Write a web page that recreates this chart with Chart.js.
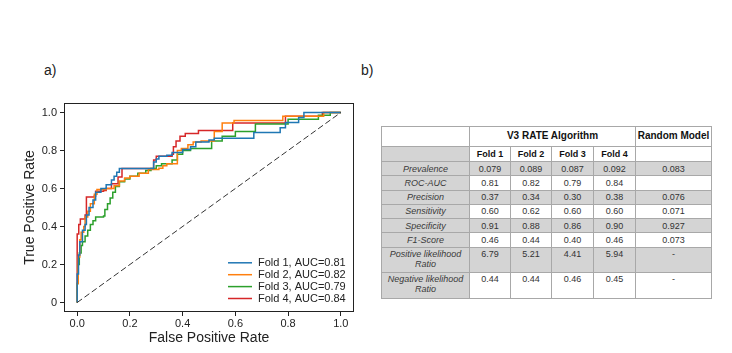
<!DOCTYPE html>
<html>
<head>
<meta charset="utf-8">
<script src="https://cdn.jsdelivr.net/npm/chart.js@4.4.1/dist/chart.umd.min.js"></script>
<style>
  body { margin: 0; background: #fff; font-family: "Liberation Sans", Arial, sans-serif; }
  #wrap { position: relative; width: 732px; height: 353px; overflow: hidden; }
  #roc { position: absolute; left: 0; top: 0; }
  .panel { position: absolute; font-size: 14px; color: #222; }
  #metrics {
    position: absolute; left: 381px; top: 126px;
    border-collapse: collapse; table-layout: fixed; width: 330px;
    font-size: 9px; color: #333;
  }
  #metrics td { border: 1px solid #a8a8a8; padding: 1.5px 1px 0 1px; text-align: center;
    vertical-align: top; line-height: 10px; overflow: hidden; }
  #metrics td.lbl { background: #d4d4d4; font-style: italic; color: #3a3a3a; }
  #metrics tr.shade td { background: #d4d4d4; }
  #metrics td.head { font-weight: bold; font-size: 10px; color: #111; padding-top: 4px; }
  #metrics td.fold { font-weight: bold; color: #111; padding-top: 2px; }
</style>
</head>
<body>
<div id="wrap">
  <div class="panel" style="left:44px;top:62px;">a)</div>
  <div class="panel" style="left:361px;top:62px;">b)</div>
  <canvas id="roc" width="360" height="353"></canvas>
  <table id="metrics"></table>
</div>
<script>
// ROC curves (fpr, tpr after each step)
const fold1Fpr = [0, 0, 0.005, 0.01, 0.02, 0.03, 0.035, 0.045, 0.06, 0.07, 0.09, 0.11, 0.13, 0.14, 0.15, 0.16, 0.28, 0.29, 0.30, 0.31, 0.34, 0.36, 0.40, 0.43, 0.45, 0.50, 0.52, 0.67, 0.77, 0.79, 0.84, 0.86, 1.0];
const fold1Tpr = [0, 0.15, 0.25, 0.32, 0.38, 0.41, 0.46, 0.50, 0.54, 0.58, 0.60, 0.62, 0.645, 0.665, 0.685, 0.705, 0.705, 0.74, 0.755, 0.77, 0.775, 0.79, 0.805, 0.82, 0.845, 0.855, 0.865, 0.895, 0.92, 0.947, 0.974, 1.0, 1.0];

const fold2Fpr = [0, 0, 0.004, 0.01, 0.015, 0.025, 0.03, 0.04, 0.05, 0.065, 0.075, 0.11, 0.14, 0.16, 0.18, 0.20, 0.235, 0.27, 0.31, 0.325, 0.34, 0.375, 0.38, 0.395, 0.42, 0.44, 0.47, 0.52, 0.55, 0.595, 0.78, 0.935, 1.0];
const fold2Tpr = [0, 0.10, 0.24, 0.33, 0.37, 0.40, 0.45, 0.48, 0.52, 0.57, 0.595, 0.60, 0.615, 0.64, 0.655, 0.665, 0.68, 0.70, 0.707, 0.72, 0.73, 0.73, 0.80, 0.81, 0.83, 0.845, 0.85, 0.90, 0.945, 0.958, 0.98, 1.0, 1.0];

const fold3Fpr = [0, 0, 0.004, 0.008, 0.015, 0.02, 0.03, 0.04, 0.05, 0.06, 0.07, 0.10, 0.105, 0.115, 0.125, 0.135, 0.145, 0.16, 0.18, 0.20, 0.23, 0.26, 0.28, 0.30, 0.32, 0.36, 0.38, 0.40, 0.43, 0.51, 0.55, 0.60, 0.676, 0.80, 0.915, 0.96, 1.0];
const fold3Tpr = [0, 0.10, 0.20, 0.26, 0.30, 0.32, 0.35, 0.38, 0.41, 0.43, 0.45, 0.455, 0.49, 0.52, 0.55, 0.58, 0.61, 0.635, 0.65, 0.665, 0.68, 0.695, 0.705, 0.72, 0.73, 0.75, 0.78, 0.80, 0.81, 0.85, 0.875, 0.90, 0.94, 0.965, 0.985, 1.0, 1.0];

const fold4Fpr = [0, 0, 0.006, 0.012, 0.03, 0.035, 0.065, 0.07, 0.10, 0.11, 0.13, 0.155, 0.17, 0.285, 0.29, 0.30, 0.36, 0.365, 0.375, 0.39, 0.41, 0.46, 0.59, 0.79, 0.93, 1.0];
const fold4Tpr = [0, 0.36, 0.41, 0.44, 0.46, 0.555, 0.56, 0.585, 0.59, 0.60, 0.625, 0.66, 0.705, 0.705, 0.75, 0.77, 0.78, 0.82, 0.85, 0.875, 0.89, 0.905, 0.945, 0.98, 1.0, 1.0];

const foldNames = ["Fold 1", "Fold 2", "Fold 3", "Fold 4"];
const foldAuc = ["0.81", "0.82", "0.79", "0.84"];
const foldColors = ["#1f77b4", "#ff7f0e", "#2ca02c", "#d62728"];

const tickValues = [0, 0.2, 0.4, 0.6, 0.8, 1.0];
const xTickLabels = ["0.0", "0.2", "0.4", "0.6", "0.8", "1.0"];
const yTickLabels = ["0", "0.2", "0.4", "0.6", "0.8", "1.0"];

// metrics table
const rowLabels = ["Prevalence", "ROC-AUC", "Precision", "Sensitivity", "Specificity", "F1-Score", "Positive likelihood Ratio", "Negative likelihood Ratio"];
const fold1Metrics = ["0.079", "0.81", "0.37", "0.60", "0.91", "0.46", "6.79", "0.44"];
const fold2Metrics = ["0.089", "0.82", "0.34", "0.62", "0.88", "0.44", "5.21", "0.44"];
const fold3Metrics = ["0.087", "0.79", "0.30", "0.60", "0.86", "0.40", "4.41", "0.46"];
const fold4Metrics = ["0.092", "0.84", "0.38", "0.60", "0.90", "0.46", "5.94", "0.45"];
const randomMetrics = ["0.083", "", "0.076", "0.071", "0.927", "0.073", "-", "-"];

const font = '"Liberation Sans", Arial, sans-serif';
const toPoints = (xs, ys) => xs.map((x, i) => ({ x: x, y: ys[i] }));
const curves = [[fold1Fpr, fold1Tpr], [fold2Fpr, fold2Tpr], [fold3Fpr, fold3Tpr], [fold4Fpr, fold4Tpr]];

const datasets = curves.map((c, i) => ({
  label: foldNames[i] + ", AUC=" + foldAuc[i],
  data: toPoints(c[0], c[1]),
  showLine: true,
  stepped: "before",
  borderColor: foldColors[i],
  borderWidth: 1.5,
  pointRadius: 0,
  fill: false,
}));
datasets.unshift({
  label: "chance",
  data: [{ x: 0, y: 0 }, { x: 1, y: 1 }],
  showLine: true,
  borderColor: "#333",
  borderWidth: 1,
  borderDash: [6, 3],
  pointRadius: 0,
});

// legend inside the plot + box frame
const insideLegend = {
  id: "insideLegend",
  afterDraw(chart) {
    const { ctx, chartArea: a } = chart;
    ctx.save();
    ctx.strokeStyle = "#222";
    ctx.lineWidth = 1;
    ctx.strokeRect(a.left + 0.5, a.top + 0.5, a.right - a.left - 1, a.bottom - a.top - 1);
    ctx.font = "11px " + font;
    ctx.textBaseline = "middle";
    foldNames.forEach((name, i) => {
      const y = a.bottom - 13.5 - (foldNames.length - 1 - i) * 11.9;
      ctx.strokeStyle = foldColors[i];
      ctx.lineWidth = 1.5;
      ctx.beginPath();
      ctx.moveTo(a.right - 126, y);
      ctx.lineTo(a.right - 102, y);
      ctx.stroke();
      ctx.fillStyle = "#222";
      ctx.fillText(name + ", AUC=" + foldAuc[i], a.right - 96, y);
    });
    ctx.restore();
  },
};

new Chart(document.getElementById("roc").getContext("2d"), {
  type: "scatter",
  data: { datasets: datasets },
  options: {
    responsive: false,
    animation: false,
    layout: { padding: { top: 103, right: 6, left: 0, bottom: 0 } },
    plugins: { legend: { display: false }, tooltip: { enabled: false } },
    scales: {
      x: {
        type: "linear", min: -0.05, max: 1.05,
        afterBuildTicks: (s) => { s.ticks = tickValues.map((v) => ({ value: v })); },
        afterFit: (s) => { s.height = 41; },
        ticks: { callback: (v, i) => xTickLabels[i], color: "#222", font: { size: 11, family: font }, padding: 1, maxRotation: 0 },
        grid: { drawOnChartArea: false, tickLength: 4, color: "#222" },
        border: { display: false },
        title: { display: true, text: "False Positive Rate", color: "#222", font: { size: 14, family: font }, padding: { top: 0, bottom: 6 } },
      },
      y: {
        type: "linear", min: -0.05, max: 1.05,
        afterBuildTicks: (s) => { s.ticks = tickValues.map((v) => ({ value: v })); },
        afterFit: (s) => { s.width = 64; },
        ticks: { callback: (v, i) => yTickLabels[i], color: "#222", font: { size: 11, family: font }, padding: 3 },
        grid: { drawOnChartArea: false, tickLength: 4, color: "#222" },
        border: { display: false },
        title: { display: true, text: "True Positive Rate", color: "#222", font: { size: 14, family: font }, padding: { top: 22, bottom: 0 } },
      },
    },
  },
  plugins: [insideLegend],
});

// build the table
const table = document.getElementById("metrics");
const colWidths = [88, 41, 41, 42, 42, 76];
const rowHeights = [20, 15, 14.3, 14.3, 14.3, 14.3, 14.3, 14.3, 25, 26.6];
const cg = document.createElement("colgroup");
colWidths.forEach((w) => { const c = document.createElement("col"); c.style.width = w + "px"; cg.appendChild(c); });
table.appendChild(cg);

function addRow(cells, h, cls) {
  const tr = document.createElement("tr");
  tr.style.height = h + "px";
  if (cls) tr.className = cls;
  cells.forEach((c) => {
    const td = document.createElement("td");
    td.textContent = c.text;
    if (c.cls) td.className = c.cls;
    if (c.span) td.colSpan = c.span;
    tr.appendChild(td);
  });
  table.appendChild(tr);
}
addRow([{ text: "" }, { text: "V3 RATE Algorithm", cls: "head", span: 4 }, { text: "Random Model", cls: "head" }], rowHeights[0]);
addRow([{ text: "", cls: "lbl" }].concat(foldNames.map((n) => ({ text: n, cls: "fold" }))).concat([{ text: "" }]), rowHeights[1]);
const cols = [fold1Metrics, fold2Metrics, fold3Metrics, fold4Metrics, randomMetrics];
rowLabels.forEach((lab, r) => {
  addRow([{ text: lab, cls: "lbl" }].concat(cols.map((c) => ({ text: c[r] }))), rowHeights[r + 2], r % 2 === 0 ? "shade" : "");
});
</script>
</body>
</html>
